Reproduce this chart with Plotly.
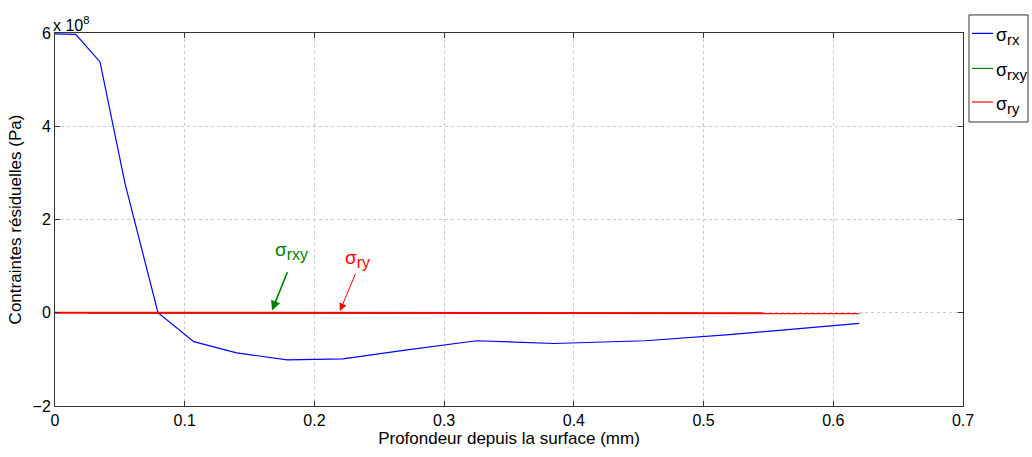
import plotly.graph_objects as go

# Depth (mm) and stresses (units of 1e8 Pa)
depth_rx = [0.0, 0.016, 0.0347, 0.054, 0.0794, 0.107, 0.140, 0.179, 0.222, 0.270, 0.325, 0.385, 0.455, 0.520, 0.620]
sigma_rx = [5.98, 5.97, 5.38, 2.77, 0.0, -0.62, -0.86, -1.01, -0.99, -0.80, -0.60, -0.66, -0.60, -0.47, -0.23]

depth_rxy = [0.025, 0.1, 0.2, 0.3, 0.4, 0.495]
sigma_rxy = [-0.005, -0.01, -0.01, -0.01, -0.01, -0.01]

depth_ry = [0.0, 0.1, 0.2, 0.3, 0.4, 0.5, 0.62]
sigma_ry = [0.0, 0.0, 0.0, -0.01, -0.01, -0.01, -0.01]

subs = ["rx", "rxy", "ry"]
colors = ["rgb(0,0,255)", "rgb(0,128,0)", "rgb(255,0,0)"]


def sigma(sub, size):
    return "σ<sub><span style='font-size:%dpx'>%s</span></sub>" % (size, sub)


FONT = "Liberation Sans"

fig = go.Figure()
fig.add_trace(go.Scatter(x=depth_rx, y=sigma_rx, mode="lines",
                         line=dict(color=colors[0], width=1.2), name="σ_rx"))
fig.add_trace(go.Scatter(x=depth_rxy, y=sigma_rxy, mode="lines",
                         line=dict(color=colors[1], width=1.5), name="σ_rxy"))
fig.add_trace(go.Scatter(x=depth_ry, y=sigma_ry, mode="lines",
                         line=dict(color=colors[2], width=2), name="σ_ry"))

axis_common = dict(showline=True, linecolor="#333", linewidth=1, mirror="allticks",
                   ticks="inside", ticklen=5, tickcolor="#333",
                   showgrid=True, gridcolor="#c8c8c8", griddash="dot", gridwidth=1,
                   zeroline=False, tickfont=dict(size=16, family=FONT, color="black"))

fig.update_xaxes(range=[0, 0.7], dtick=0.1, tick0=0,
                 title=dict(text="Profondeur depuis la surface (mm)", font=dict(size=17, family=FONT, color="black"), standoff=2),
                 **axis_common)
fig.update_yaxes(range=[-2, 6], dtick=2, tick0=0,
                 title=dict(text="Contraintes résiduelles (Pa)", font=dict(size=17, family=FONT, color="black"), standoff=6),
                 **axis_common)

annotations = [
    dict(x=0, y=1, xref="paper", yref="paper", xanchor="left", yanchor="bottom",
         text="x 10<sup>8</sup>", showarrow=False, font=dict(size=16, family=FONT, color="black"), xshift=-4, yshift=-3),
    dict(x=0.182, y=1.33, xref="x", yref="y", text=sigma("rxy", 16), showarrow=False,
         font=dict(size=19, family=FONT, color=colors[1])),
    dict(x=0.233, y=1.16, xref="x", yref="y", text=sigma("ry", 16), showarrow=False,
         font=dict(size=19, family=FONT, color=colors[2])),
    dict(x=0.1673, y=0.05, ax=0.1796, ay=0.90, xref="x", yref="y", axref="x", ayref="y",
         text="", showarrow=True, arrowhead=2, arrowsize=1.2, arrowwidth=1.6, arrowcolor=colors[1]),
    dict(x=0.2197, y=0.04, ax=0.232, ay=0.86, xref="x", yref="y", axref="x", ayref="y",
         text="", showarrow=True, arrowhead=2, arrowsize=1.5, arrowwidth=1, arrowcolor=colors[2]),
]

# Custom legend (MATLAB style box outside right of axes)
shapes = [dict(type="rect", xref="paper", yref="paper", x0=1.0066, x1=1.0716, y0=0.7614, y1=1.0483,
               line=dict(color="#333", width=1), fillcolor="white")]
leg_y = [0.999, 0.905, 0.815]
for sub, col, yy in zip(subs, colors, leg_y):
    shapes.append(dict(type="line", xref="paper", yref="paper", x0=1.0099, x1=1.0330, y0=yy, y1=yy,
                       line=dict(color=col, width=1.2)))
    annotations.append(dict(x=1.0345, y=yy, xref="paper", yref="paper", xanchor="left", yanchor="middle",
                            text=sigma(sub, 15), showarrow=False, yshift=-3,
                            font=dict(size=18, family=FONT, color="black")))

fig.update_layout(
    width=1032, height=457,
    margin=dict(l=55, r=69, t=33, b=51, autoexpand=False),
    paper_bgcolor="white", plot_bgcolor="white",
    font=dict(family=FONT, color="black"),
    annotations=annotations,
    shapes=shapes,
    showlegend=False,
)

fig.write_html("out.html")
